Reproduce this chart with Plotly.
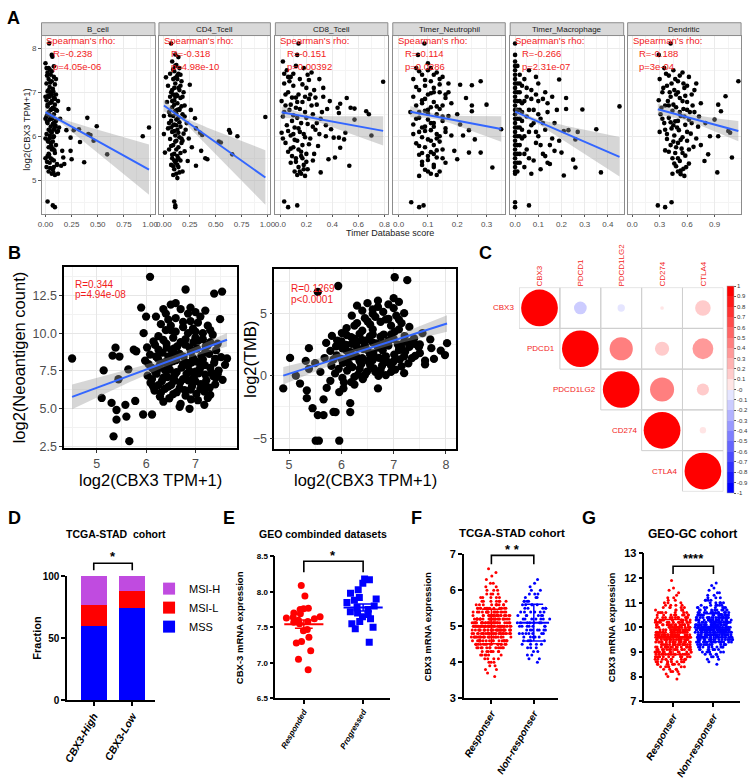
import numpy as np
import plotly.graph_objects as go

W, H = 753, 780
FONT = "Liberation Sans"
RED_TXT = "#F21C1C"


def PX(x):
    return x / W


def PY(y):
    return 1 - y / H


# ===================== DATA =====================
# ---- Panel A (TIMER correlations) ----
a_cells = ["B_cell", "CD4_Tcell", "CD8_Tcell", "Timer_Neutrophil", "Timer_Macrophage", "Dendritic"]
a_rho = ["-0.238", "-0.318", "-0.151", "-0.114", "-0.266", "-0.188"]
a_p = ["4.05e-06", "4.98e-10", "0.00392", "0.0286", "2.31e-07", "3e-04"]
a_fit_intercept = [6.55, 6.70, 6.55, 6.61, 6.56, 6.77]
a_fit_slope = [-1.32, -1.67, -0.54, -1.27, -2.28, -0.56]
a_band_min = [0.05, 0.05, 0.06, 0.06, 0.05, 0.08]
a_band_far = [0.57, 0.62, 0.33, 0.29, 0.45, 0.23]

bcell_pts = [(0.02,7.45),(0.05,7.4),(0.08,7.35),(0.03,7.3),(0.06,7.25),(0.01,7.2),(0.09,7.18),(0.04,7.12),(0.07,7.08),(0.02,7.02),
             (0.05,6.98),(0.1,6.95),(0.03,6.9),(0.08,6.88),(0.01,6.82),(0.06,6.8),(0.04,6.75),(0.09,6.72),(0.02,6.68),(0.07,6.65),
             (0.05,6.6),(0.11,6.58),(0.03,6.55),(0.08,6.5),(0.01,6.45),(0.06,6.42),(0.04,6.38),(0.1,6.35),(0.02,6.3),(0.07,6.28),
             (0.05,6.22),(0.09,6.2),(0.03,6.15),(0.12,6.12),(0.06,6.08),(0.01,6.05),(0.08,6.0),(0.04,5.95),(0.02,5.92),(0.07,5.88),
             (0.05,5.85),(0.1,5.8),(0.03,5.75),(0.06,5.7),(0.09,5.62),(0.02,5.55),(0.05,5.5),(0.08,5.45),(0.04,5.4),(0.11,5.35),
             (0.01,5.3),(0.07,5.25),(0.03,5.2),(0.06,5.15),(0.09,5.12),(0.04,6.9),(0.06,6.62),(0.02,6.5),(0.08,6.3),(0.05,7.0),
             (0.015,7.38),(0.045,7.22),(0.075,7.02),(0.025,6.92),(0.055,6.77),(0.085,6.62),(0.035,6.52),(0.065,6.4),(0.015,6.33),(0.095,6.25),
             (0.045,6.12),(0.075,5.98),(0.025,5.88),(0.055,5.78),(0.085,5.68),(0.035,5.58),(0.065,5.47),(0.015,5.42),(0.045,5.28),(0.075,5.18),
             (0.03,7.05),(0.06,6.95),(0.09,6.85),(0.02,6.72),(0.05,6.45),(0.08,6.15),(0.04,6.02),(0.07,5.72),(0.03,5.6),(0.1,6.6),
             (0.0,6.9),(0.0,6.4),(0.0,5.95),(0.0,5.5),(0.11,6.1),(0.12,6.8),(0.1,7.3),(0.06,7.48),(0.03,7.55),(0.08,5.3),
             (0.035,8.11),(0.06,7.85),(0.066,7.81),(0.08,7.59),(0.0,7.66),(0.01,7.55),(0.04,7.52),
             (0.02,4.52),(0.07,4.43),(0.09,4.39),
             (0.22,6.62),(0.2,6.14),(0.24,5.97),(0.27,6.14),(0.32,6.16),(0.33,5.87),(0.4,6.42),(0.41,6.05),(0.43,6.03),(0.46,5.9),
             (0.49,6.23),(0.59,5.59),(0.93,6.0),(0.99,6.2),(0.24,5.67),(0.25,5.48),(0.37,5.41),(0.16,5.67),(0.17,5.52),(0.18,5.37),
             (0.11,5.37),(0.15,5.33),(0.13,6.2),(0.14,6.4),(0.12,5.15)]

cd4_pts = [(0.08,7.7),(0.12,7.62),(0.15,7.55),(0.1,7.48),(0.06,7.42),(0.13,7.38),(0.09,7.3),(0.17,7.25),(0.11,7.2),(0.04,7.15),
           (0.14,7.1),(0.08,7.05),(0.19,7.0),(0.12,6.95),(0.06,6.9),(0.16,6.87),(0.1,6.82),(0.03,6.78),(0.13,6.75),(0.2,6.7),
           (0.08,6.66),(0.15,6.62),(0.11,6.58),(0.05,6.55),(0.18,6.5),(0.09,6.46),(0.14,6.42),(0.12,6.38),(0.07,6.35),(0.22,6.3),
           (0.1,6.27),(0.16,6.22),(0.04,6.18),(0.13,6.15),(0.08,6.1),(0.19,6.06),(0.11,6.02),(0.15,5.98),(0.06,5.94),(0.12,5.9),
           (0.17,5.85),(0.09,5.8),(0.14,5.75),(0.05,5.7),(0.2,5.66),(0.1,5.6),(0.13,5.55),(0.08,5.5),(0.16,5.45),(0.11,5.4),
           (0.07,5.35),(0.14,5.3),(0.1,5.25),(0.18,5.2),(0.12,5.15),(0.09,5.12),(0.15,6.6),(0.11,6.9),(0.13,7.3),(0.07,6.2),
           (0.09,7.52),(0.14,7.42),(0.11,7.33),(0.16,7.15),(0.07,7.0),(0.13,6.92),(0.1,6.72),(0.17,6.68),(0.12,6.52),(0.06,6.48),
           (0.15,6.32),(0.09,6.25),(0.14,6.08),(0.11,5.88),(0.07,5.78),(0.16,5.62),(0.12,5.45),(0.09,5.32),(0.15,5.18),(0.13,5.05),
           (0.1,7.1),(0.18,6.9),(0.08,6.8),(0.13,6.6),(0.2,6.45),(0.1,6.12),(0.17,5.95),(0.12,5.7),(0.08,5.58),(0.14,5.5),
           (0.11,7.6),(0.16,7.4),(0.05,6.3),(0.18,5.9),(0.21,6.15),(0.12,6.25),(0.09,6.95),(0.15,7.05),(0.13,5.35),(0.1,5.45),
           (0.07,8.11),(0.11,7.86),(0.14,7.8),(0.02,7.34),(0.0,6.46),(0.0,6.05),(0.01,5.63),(0.25,7.17),(0.3,6.41),(0.31,6.18),
           (0.35,6.08),(0.37,6.03),(0.36,5.67),(0.4,5.5),(0.42,5.48),(0.31,5.33),(0.23,5.44),(0.63,6.14),(0.64,6.08),(0.53,5.88),
           (0.55,5.86),(0.66,5.59),(0.71,6.0),(0.98,6.44),(0.1,4.52),(0.11,4.43),(0.11,4.39),(0.24,5.95),(0.27,5.75),(0.26,6.6)]

cd8_pts = [(0.02,7.7),(0.05,7.5),(0.12,7.6),(0.18,7.55),(0.24,7.45),(0.08,7.35),(0.15,7.3),(0.3,7.3),(0.03,7.2),(0.1,7.15),
           (0.2,7.1),(0.26,7.05),(0.06,7.0),(0.14,6.95),(0.33,6.9),(0.09,6.88),(0.22,6.85),(0.01,6.8),(0.17,6.78),(0.28,6.72),
           (0.04,6.7),(0.12,6.65),(0.36,6.62),(0.07,6.6),(0.19,6.55),(0.25,6.5),(0.02,6.45),(0.13,6.42),(0.31,6.4),(0.09,6.35),
           (0.16,6.3),(0.21,6.28),(0.05,6.25),(0.11,6.2),(0.27,6.15),(0.15,6.1),(0.01,6.08),(0.08,6.02),(0.19,5.98),(0.23,5.95),
           (0.13,5.9),(0.04,5.85),(0.17,5.8),(0.29,5.78),(0.1,5.75),(0.14,5.7),(0.06,5.65),(0.2,5.6),(0.16,5.55),(0.12,5.5),
           (0.25,5.45),(0.08,5.4),(0.18,5.35),(0.14,5.3),(0.21,5.25),(0.11,5.2),(0.16,5.15),(0.19,5.1),(0.23,6.95),(0.07,7.25),
           (0.03,7.42),(0.1,7.42),(0.17,7.18),(0.22,7.28),(0.04,6.95),(0.12,6.88),(0.27,6.88),(0.08,6.72),(0.15,6.62),(0.32,6.55),
           (0.03,6.55),(0.2,6.42),(0.1,6.48),(0.25,6.22),(0.06,6.12),(0.14,6.18),(0.18,6.05),(0.3,6.05),(0.11,5.92),(0.02,5.95),
           (0.22,5.82),(0.08,5.72),(0.16,5.65),(0.26,5.6),(0.12,5.42),(0.2,5.42),(0.15,5.2),(0.18,5.25),(0.13,5.12),(0.09,5.55),
           (0.24,6.7),(0.19,6.9),(0.06,7.35),(0.28,6.3),(0.35,6.25),(0.33,7.1),(0.21,7.4),(0.1,6.05),(0.17,5.5),(0.13,6.78),
           (0.14,8.11),(0.13,7.85),(0.51,6.87),(0.54,6.65),(0.57,6.63),(0.44,6.65),(0.46,6.74),(0.45,6.53),(0.57,6.38),(0.66,6.57),
           (0.68,6.5),(0.7,6.02),(0.39,6.16),(0.41,5.97),(0.45,5.97),(0.49,5.93),(0.5,6.08),(0.53,5.33),(0.31,5.18),(0.37,5.48),
           (0.42,5.52),(0.46,5.74),(0.79,7.24),(0.03,4.52),(0.06,4.39),(0.13,4.43),(0.35,6.0),(0.38,6.8)]

neut_pts = [(0.06,7.55),(0.1,7.5),(0.13,7.45),(0.08,7.4),(0.15,7.35),(0.05,7.3),(0.11,7.25),(0.17,7.2),(0.09,7.15),(0.12,7.1),
            (0.07,7.05),(0.14,7.0),(0.1,6.95),(0.05,6.9),(0.16,6.87),(0.08,6.82),(0.12,6.78),(0.18,6.75),(0.06,6.7),(0.11,6.66),
            (0.14,6.62),(0.09,6.58),(0.04,6.55),(0.13,6.5),(0.17,6.46),(0.07,6.42),(0.1,6.38),(0.15,6.35),(0.12,6.3),(0.05,6.27),
            (0.09,6.22),(0.16,6.18),(0.11,6.14),(0.07,6.1),(0.13,6.05),(0.18,6.02),(0.08,5.98),(0.1,5.93),(0.14,5.88),(0.06,5.84),
            (0.12,5.8),(0.09,5.75),(0.15,5.7),(0.11,5.64),(0.07,5.58),(0.13,5.52),(0.1,5.46),(0.16,5.4),(0.08,5.35),(0.12,5.3),
            (0.09,5.24),(0.14,5.2),(0.11,5.15),(0.07,5.1),(0.1,6.6),(0.12,7.0),(0.08,6.2),(0.13,5.95),
            (0.07,7.48),(0.12,7.4),(0.09,7.28),(0.14,7.18),(0.06,7.12),(0.11,6.98),(0.16,6.95),(0.08,6.75),(0.13,6.68),(0.1,6.52),
            (0.15,6.45),(0.06,6.4),(0.12,6.22),(0.09,6.12),(0.14,6.0),(0.11,5.9),(0.07,5.78),(0.13,5.68),(0.1,5.55),(0.15,5.5),
            (0.08,5.42),(0.12,5.35),(0.1,5.2),(0.13,5.12),(0.09,6.85),(0.15,6.7),(0.11,6.3),(0.16,6.1),(0.07,6.55),(0.12,5.6),
            (0.17,7.0),(0.05,6.05),(0.14,7.3),(0.08,5.62),(0.11,7.55),
            (0.088,8.11),(0.066,7.85),(0.1,7.66),(0.043,4.5),(0.07,4.39),(0.085,4.43),(0.21,7.17),(0.25,7.16),(0.28,7.25),(0.23,6.87),
            (0.25,6.7),(0.3,6.72),(0.25,6.57),(0.24,6.14),(0.22,6.02),(0.26,5.93),(0.35,6.16),(0.24,5.63),(0.28,5.63),(0.32,5.29),
            (0.2,5.48),(0.19,5.67),(0.21,6.27),(0.2,6.5)]

macro_pts = [(0.0,7.7),(0.0,7.5),(0.0,7.3),(0.0,7.1),(0.0,6.9),(0.0,6.7),(0.0,6.5),(0.0,6.3),(0.0,6.1),(0.0,5.9),
             (0.0,5.7),(0.0,5.5),(0.0,5.3),(0.0,5.15),(0.01,7.6),(0.01,7.2),(0.01,6.8),(0.01,6.4),(0.01,6.0),(0.01,5.6),
             (0.01,5.2),(0.02,7.4),(0.02,7.0),(0.02,6.6),(0.02,6.2),(0.02,5.8),(0.02,5.4),(0.03,7.15),(0.03,6.75),(0.03,6.35),
             (0.03,5.95),(0.04,7.3),(0.05,6.9),(0.05,6.45),(0.06,6.1),(0.05,5.7),(0.07,7.05),(0.08,6.6),(0.07,6.25),(0.09,5.85),
             (0.08,5.45),(0.1,7.2),(0.1,6.8),(0.11,6.4),(0.1,6.0),(0.12,5.6),(0.11,5.25),(0.13,7.0),(0.14,6.55),(0.13,6.15),
             (0.15,5.8),(0.14,5.4),(0.16,6.9),(0.17,6.3),(0.16,5.95),(0.04,5.3),(0.06,7.5),(0.09,7.35),(0.12,6.85),(0.07,5.15),
             (0.0,7.6),(0.0,7.4),(0.0,7.2),(0.0,7.0),(0.0,6.8),(0.0,6.6),(0.0,6.4),(0.0,6.2),(0.0,6.0),(0.0,5.8),
             (0.0,5.6),(0.0,5.4),(0.0,5.2),(0.01,7.0),(0.01,6.6),(0.01,6.2),(0.01,5.8),(0.01,5.4),(0.02,7.2),(0.02,6.8),
             (0.02,6.4),(0.02,6.0),(0.02,5.6),(0.03,6.55),(0.03,6.15),(0.04,6.8),(0.04,6.0),(0.05,7.1),(0.06,6.6),(0.06,5.5),
             (0.07,6.85),(0.08,6.3),(0.09,6.95),(0.09,6.1),(0.1,6.5),(0.11,5.8),(0.12,6.3),(0.13,5.55),(0.14,6.75),(0.04,5.6),
             (0.0,8.11),(0.0,7.85),(0.0,4.5),(0.0,4.39),(0.06,4.43),(0.19,7.29),(0.22,6.87),(0.22,6.62),(0.29,6.61),(0.45,6.68),
             (0.35,6.16),(0.23,6.14),(0.21,6.12),(0.27,6.1),(0.26,5.93),(0.2,5.63),(0.25,5.47),(0.26,5.29),(0.21,5.11),(0.37,5.18),
             (0.17,5.67),(0.15,5.37),(0.18,6.6),(0.19,5.9)]

dend_pts = [(0.35,7.55),(0.45,7.5),(0.55,7.45),(0.4,7.38),(0.62,7.35),(0.3,7.3),(0.5,7.25),(0.7,7.2),(0.38,7.15),(0.57,7.1),
            (0.46,7.05),(0.33,7.0),(0.65,6.95),(0.42,6.9),(0.52,6.87),(0.29,6.82),(0.6,6.78),(0.75,6.75),(0.36,6.7),(0.48,6.66),
            (0.56,6.62),(0.44,6.58),(0.68,6.55),(0.31,6.5),(0.53,6.46),(0.4,6.42),(0.62,6.38),(0.47,6.34),(0.35,6.3),(0.58,6.26),
            (0.72,6.22),(0.43,6.18),(0.51,6.14),(0.3,6.1),(0.64,6.06),(0.46,6.02),(0.55,5.98),(0.38,5.94),(0.6,5.9),(0.5,5.85),
            (0.42,5.8),(0.67,5.76),(0.54,5.72),(0.36,5.68),(0.47,5.62),(0.58,5.56),(0.44,5.5),(0.52,5.44),(0.62,5.38),(0.48,5.32),
            (0.56,5.26),(0.5,5.2),(0.53,5.14),(0.57,5.1),(0.4,6.7),(0.5,7.0),(0.45,6.25),(0.6,6.6),
            (0.37,7.42),(0.52,7.38),(0.43,7.2),(0.6,7.15),(0.34,7.1),(0.48,6.95),(0.58,6.92),(0.39,6.8),(0.66,6.7),(0.45,6.72),
            (0.52,6.55),(0.33,6.4),(0.57,6.45),(0.42,6.32),(0.65,6.3),(0.49,6.2),(0.38,6.05),(0.6,6.1),(0.53,5.92),(0.45,5.88),
            (0.7,5.95),(0.4,5.65),(0.55,5.62),(0.5,5.5),(0.46,5.38),(0.59,5.3),(0.53,5.22),(0.44,5.15),(0.63,6.55),(0.36,6.15),
            (0.47,7.3),(0.68,7.05),(0.32,6.65),(0.55,6.8),(0.73,6.45),(0.5,6.35),(0.41,7.0),(0.62,5.7),(0.48,5.75),(0.56,7.2),
            (0.42,8.11),(0.29,7.85),(1.16,7.25),(1.02,6.91),(0.94,6.72),(0.97,6.57),(0.9,6.38),(1.05,6.12),(1.07,6.08),(0.94,6.0),
            (1.09,5.52),(0.93,5.18),(0.83,5.59),(0.79,5.44),(0.28,4.43),(0.36,4.39),(0.43,4.5),(0.8,6.3),(0.85,6.0),(0.75,5.8)]

a_points = [bcell_pts, cd4_pts, cd8_pts, neut_pts, macro_pts, dend_pts]

# ---- Panel B ----
b_stats = [("R=0.344", "p=4.94e-08"), ("R=0.1269", "p<0.0001")]
b_fit_intercept = [0.34, -6.51]
b_fit_slope = [1.207, 1.332]
b_band_min = [0.25, 0.25]
b_band_far = [0.82, 0.70]

neo_pts = [(4.5,8.32),(5.14,7.53),(5.1,5.7),(5.38,9.04),(5.32,8.51),(5.46,8.45),(5.64,7.6),(5.44,6.94),(5.3,5.37),(5.4,4.9),
           (5.58,5.24),(5.4,4.26),(5.6,4.46),(5.34,3.15),(5.66,2.83),(5.94,4.6),(6.12,4.6),(7.18,5.24),(6.88,4.98),(6.68,5.11),
           (5.78,5.5),(7.64,8.32),(7.5,10.93),(6.08,13.74),(6.8,12.9),(7.38,12.63),(7.54,12.76),(5.9,11.7),(6.0,11.1),(5.8,8.8),
           (5.75,8.9),(5.95,10.0),
           (6.2,11.1),(6.35,11.6),(6.5,11.9),(6.6,12.0),(6.7,11.6),(6.85,11.3),(7.0,11.4),(7.1,11.1),(7.2,11.5),(6.45,10.9),
           (6.6,11.0),(6.9,10.8),(7.05,10.7),(6.3,10.6),(6.5,10.5),(6.75,10.4),(6.95,10.3),(7.25,10.5),(6.4,10.2),(6.6,10.1),
           (6.85,10.0),(7.15,10.0),(7.35,9.9),(6.25,9.8),(6.55,9.7),(6.8,9.6),(7.05,9.5),(7.3,9.4),(7.45,9.3),
           (6.02,9.05),(6.18,9.22),(6.41,9.31),(6.63,9.12),(6.79,9.24),(7.03,8.98),(7.21,9.13),(7.42,8.87),(6.08,8.58),(6.33,8.71),
           (6.52,8.83),(6.68,8.62),(6.91,8.74),(7.12,8.49),(7.28,8.63),(7.52,8.41),(5.98,8.18),(6.24,8.32),(6.39,8.07),(6.61,8.21),
           (6.83,8.02),(7.01,8.13),(7.19,7.88),(7.38,8.04),(6.12,7.69),(6.27,7.83),(6.48,7.58),(6.72,7.71),(6.88,7.49),(7.09,7.62),
           (7.33,7.38),(7.47,7.52),(6.03,7.18),(6.21,7.31),(6.43,7.09),(6.58,7.24),(6.81,6.98),(6.97,7.12),(7.22,6.87),(7.41,7.03),
           (6.09,6.71),(6.32,6.82),(6.51,6.57),(6.69,6.73),(6.93,6.48),(7.11,6.62),(7.29,6.39),(6.17,6.19),(6.38,6.31),(6.62,6.08),
           (6.78,6.22),(7.02,5.97),(7.18,6.12),(6.28,5.79),(6.47,5.68),(6.91,5.61),(6.22,7.52),(6.46,7.94),(6.76,8.44),(7.06,7.33),
           (6.56,8.97),(6.86,6.86),(6.14,6.48),(7.36,7.16),(6.96,9.41),(6.7,5.3),(7.05,5.55),(6.35,5.45),(7.3,5.9),(7.55,6.9),
           (7.6,7.9),(6.55,6.95),(6.85,7.85),(6.25,8.9),(7.15,9.6),
           (6.15,9.45),(6.35,9.55),(6.7,9.4),(7.0,9.7),(7.25,9.2),(6.45,8.45),(6.6,8.55),(6.95,8.35),(7.15,8.25),(7.4,8.3),
           (6.05,7.95),(6.3,8.05),(6.55,8.15),(6.75,7.95),(6.92,8.05),(7.1,7.85),(7.3,7.7),(6.18,7.45),(6.38,7.55),(6.62,7.42),
           (6.82,7.3),(7.0,7.45),(7.2,7.25),(7.45,7.25),(6.12,6.95),(6.35,7.05),(6.58,6.85),(6.75,6.95),(7.0,6.8),(7.2,6.55),
           (7.4,6.6),(6.25,6.55),(6.45,6.45),(6.68,6.35),(6.9,6.25),(7.1,6.3),(6.3,6.05),(6.55,5.95),(6.8,5.85),(7.25,5.7),
           (6.42,9.05),(6.88,9.05),(7.2,8.75),(6.2,8.45),(6.5,10.2),(6.75,10.75),(7.0,10.1),(7.3,10.2),(6.4,11.3),(6.9,11.7)]

tmb_pts = [(4.89,-1.02),(5.02,1.42),(7.02,7.87),(7.26,7.64),(5.94,7.17),(5.55,6.7),(8.02,2.6),(7.98,1.65),(7.77,1.34),(7.72,2.2),
           (5.55,-3.15),(5.66,-3.15),(5.89,-2.91),(6.17,-2.2),(6.17,-2.91),(5.45,-2.6),(5.34,-1.8),(5.34,-1.18),(5.21,-0.63),(5.66,-1.89),
           (6.04,-1.02),(6.25,-0.71),(6.7,-1.02),(5.13,0.0),(5.38,0.55),(5.32,1.18),(5.38,2.2),(5.51,-5.2),(5.57,-5.2),(5.96,-5.2),
           (5.85,-2.9),(7.9,2.0),(7.6,1.2),(7.5,2.5),(7.7,2.9),
           (6.3,5.6),(6.5,5.8),(6.7,6.0),(6.9,5.7),(7.1,5.9),(6.4,5.2),(6.6,5.3),(6.8,5.1),(7.0,5.4),(7.2,5.0),
           (6.2,4.8),(6.45,4.6),(6.65,4.7),(6.85,4.5),(7.05,4.8),(6.3,4.2),(6.55,4.1),(6.75,4.3),(6.95,4.0),(7.15,4.2),
           (7.3,3.9),(6.1,3.8),(6.4,3.6),(6.6,3.7),
           (5.82,3.18),(6.01,3.41),(6.19,3.08),(6.81,3.29),(7.02,3.52),(7.21,3.17),(7.39,2.98),(5.71,2.62),(5.92,2.81),(6.09,2.47),
           (6.31,2.72),(6.52,2.91),(6.68,2.58),(6.91,2.83),(7.08,2.49),(7.32,2.71),(7.48,2.28),(5.79,1.98),(6.02,2.19),(6.18,1.88),
           (6.42,2.12),(6.61,1.79),(6.79,2.03),(7.01,1.68),(7.22,1.92),(7.41,1.58),(5.68,1.41),(5.91,1.62),(6.12,1.28),(6.29,1.52),
           (6.51,1.19),(6.72,1.43),(6.89,1.08),(7.12,1.31),(7.28,0.98),(5.81,0.79),(6.03,1.02),(6.21,0.68),(6.38,0.92),(6.62,0.58),
           (6.78,0.81),(7.03,0.49),(5.88,0.18),(6.11,0.41),(6.32,0.08),(6.49,0.32),(6.71,-0.02),(5.79,-0.41),(6.02,-0.18),(6.19,-0.52),
           (6.41,-0.28),(5.72,-0.98),(5.96,-1.31),(6.45,2.42),(6.55,1.65),(6.25,2.95),(6.75,3.12),(6.15,1.75),(6.85,1.55),(6.35,0.55),
           (7.15,2.2),(6.95,0.3),(7.35,1.4),(6.6,3.3),(5.6,0.3),(5.5,1.0),(7.55,3.4),(7.2,0.2),
           (5.9,2.35),(6.1,2.0),(6.3,2.25),(6.5,2.05),(6.7,2.25),(6.9,2.4),(7.1,2.05),(7.3,2.3),(6.0,1.35),(6.2,1.55),
           (6.4,1.4),(6.6,1.25),(6.8,1.3),(7.0,1.15),(7.2,1.55),(5.95,0.55),(6.15,0.9),(6.35,1.15),(6.55,0.85),(6.75,0.45),
           (6.95,0.8),(7.15,0.75),(6.05,-0.55),(6.25,-0.1),(6.45,0.05),(6.65,0.3),(6.85,0.05),(6.0,2.75),(6.2,2.55),(6.4,2.85),
           (6.6,2.65),(6.8,2.6),(7.0,2.95),(7.2,2.7),(7.4,2.55),(6.1,3.25),(6.35,3.35),(6.55,3.15),(6.95,3.3),(7.1,3.7),
           (6.25,4.0),(6.5,4.35),(6.9,4.55),(7.1,4.5),(6.7,5.5),(6.6,4.95),(7.0,6.2),(5.85,1.3),(7.5,1.8),(7.6,0.9)]

b_points = [neo_pts, tmb_pts]

# ---- Panel C (correlation matrix, upper triangle) ----
c_genes = ["CBX3", "PDCD1", "PDCD1LG2", "CD274", "CTLA4"]
c_corr = [[1.00, -0.12, -0.04, 0.01, 0.18],
          [None, 1.00, 0.40, 0.15, 0.32],
          [None, None, 1.00, 0.43, 0.11],
          [None, None, None, 1.00, 0.03],
          [None, None, None, None, 1.00]]

# ---- Panel D (MSI fraction) ----
d_groups = ["CBX3-High", "CBX3-Low"]
d_mss = [60, 74]
d_msil = [17, 14]
d_msih = [23, 12]

# ---- Panel E (GEO combined datasets) ----
e_groups = ["Responded", "Progressed"]
e_responded = [8.09, 7.94, 7.77, 7.76, 7.75, 7.70, 7.69, 7.65, 7.64, 7.63, 7.62, 7.60, 7.58, 7.57, 7.55,
               7.47, 7.45, 7.36, 7.30, 7.28, 7.17, 7.05, 6.90]
e_progressed = [8.18, 8.17, 8.12, 8.03, 7.98, 7.92, 7.90, 7.88, 7.85, 7.80, 7.78, 7.75, 7.72, 7.70, 7.68,
                7.65, 7.62, 7.58, 7.55, 7.50, 7.48, 7.29]

fg_groups = ["Responser", "Non-responser"]
f_resp_vals = [3.6, 3.7, 3.8, 3.9, 4.0, 4.1, 4.2, 4.3, 4.4, 4.5, 4.6, 4.7, 4.8, 4.9, 5.0, 5.1, 5.2, 5.3, 5.4, 5.5,
               5.6, 5.7, 5.8, 5.9, 6.0, 6.1, 6.2, 6.3, 6.4, 6.5, 6.6]
f_resp_counts = [1, 1, 2, 2, 3, 4, 6, 8, 12, 16, 20, 24, 28, 32, 33, 30, 26, 22, 18, 14,
                 10, 7, 5, 4, 3, 2, 2, 1, 1, 1, 1]
f_non_vals = [4.0, 4.1, 4.2, 4.3, 4.4, 4.5, 4.6, 4.7, 4.8, 4.9, 5.0, 5.1, 5.2, 5.3, 5.4, 5.5, 5.6, 5.7, 5.8, 5.9,
              6.0, 6.1, 6.2, 6.3]
f_non_counts = [1, 2, 2, 2, 3, 4, 5, 6, 7, 7, 7, 7, 7, 6, 6, 5, 5, 4, 3, 3, 2, 1, 1, 1]

# ---- Panel G (GEO-GC cohort) ----
g_resp_vals = [7.9, 8.0, 8.1, 8.2, 8.3, 8.4, 8.5, 8.6, 8.7, 8.8, 8.9, 9.0, 9.1, 9.2, 9.3, 9.4, 9.5, 9.6, 9.7, 9.8,
               9.9, 10.0, 10.1, 10.2, 10.3, 10.4, 10.5, 10.6, 10.7, 10.8, 10.9, 11.0, 11.1, 11.2, 11.3, 11.4, 11.5, 11.6, 11.9]
g_resp_counts = [1, 1, 2, 3, 4, 6, 8, 10, 11, 12, 14, 15, 16, 17, 18, 19, 20, 21, 21, 21,
                 20, 19, 17, 15, 13, 11, 9, 7, 6, 5, 4, 3, 2, 2, 1, 1, 1, 1, 1]
g_non_vals = [8.5, 8.6, 8.7, 8.8, 8.9, 9.0, 9.1, 9.2, 9.3, 9.4, 9.5, 9.6, 9.7, 9.8, 9.9, 10.0, 10.1, 10.2, 10.3, 10.4,
              10.5, 10.6, 10.7, 10.8, 10.9, 11.0, 11.1, 11.2, 11.3, 11.4, 11.5, 11.6, 11.7, 11.8]
g_non_counts = [1, 1, 2, 3, 4, 6, 8, 10, 13, 16, 19, 22, 25, 27, 28, 28, 27, 25, 22, 19,
                16, 13, 10, 8, 6, 5, 4, 3, 2, 2, 1, 1, 1, 1]

# ===================== FIGURE =====================
fig = go.Figure()
layout = dict(width=W, height=H, margin=dict(l=0, r=0, t=0, b=0),
              paper_bgcolor="white", plot_bgcolor="white",
              font=dict(family=FONT, color="black"), showlegend=True,
              barmode="stack", boxmode="overlay")
shapes, annos = [], []


def ax_names(k):
    return ("x" if k == 1 else f"x{k}"), ("y" if k == 1 else f"y{k}")


def lay_names(k):
    return ("xaxis" if k == 1 else f"xaxis{k}"), ("yaxis" if k == 1 else f"yaxis{k}")


def add_fit(xs, xname, yname, b0, b1, h0, hf):
    xl = np.linspace(xs.min(), xs.max(), 80)
    yl = b0 + b1 * xl
    xm = xs.mean()
    dfar = max(abs(xs.min() - xm), abs(xs.max() - xm))
    c = (hf ** 2 - h0 ** 2) / dfar ** 2
    hw = np.sqrt(h0 ** 2 + c * (xl - xm) ** 2)
    fig.add_trace(go.Scatter(x=np.concatenate([xl, xl[::-1]]), y=np.concatenate([yl + hw, (yl - hw)[::-1]]),
                             fill="toself", fillcolor="rgba(153,153,153,0.4)", line=dict(width=0),
                             mode="lines", xaxis=xname, yaxis=yname, showlegend=False, hoverinfo="skip"))
    fig.add_trace(go.Scatter(x=xl, y=yl, mode="lines", line=dict(color="#3366FF", width=2),
                             xaxis=xname, yaxis=yname, showlegend=False, hoverinfo="skip"))


# ---------- Panel A ----------
a_px = [(37, 152), (156, 269), (274, 388), (393, 507), (512, 627), (631, 746)]
a_xrange = [[-0.038, 1.047], [-0.048, 1.029], [-0.038, 0.826], [-0.02, 0.364], [-0.021, 0.468], [-0.05, 1.19]]
a_dtick = [0.25, 0.25, 0.2, 0.1, 0.1, 0.3]
a_fmt = [".2f", ".2f", ".1f", ".1f", ".1f", ".1f"]
for i in range(6):
    k = i + 1
    xn, yn = ax_names(k)
    xl_, yl_ = lay_names(k)
    xs = np.array([p[0] for p in a_points[i]])
    ys = np.array([p[1] for p in a_points[i]])
    fig.add_trace(go.Scatter(x=xs, y=ys, mode="markers", marker=dict(color="black", size=4.6),
                             xaxis=xn, yaxis=yn, showlegend=False, hoverinfo="skip"))
    add_fit(xs, xn, yn, a_fit_intercept[i], a_fit_slope[i], a_band_min[i], a_band_far[i])
    l, r = a_px[i]
    layout[xl_] = dict(domain=[PX(l), PX(r)], range=a_xrange[i], anchor=yn, tickmode="linear", tick0=0,
                       dtick=a_dtick[i], tickformat=a_fmt[i], showline=True, mirror=True, linecolor="#8C8C8C",
                       linewidth=1, ticks="outside", ticklen=2.5, tickcolor="#555", tickfont=dict(size=8, color="#4D4D4D"),
                       showgrid=True, gridcolor="#EBEBEB", gridwidth=0.8, zeroline=False,
                       minor=dict(dtick=a_dtick[i] / 2, showgrid=True, gridcolor="#F4F4F4", gridwidth=0.5))
    layout[yl_] = dict(domain=[PY(211), PY(30)], range=[4.24, 8.29], anchor=xn, tickmode="linear", tick0=0, dtick=1,
                       showline=True, mirror=True, linecolor="#8C8C8C", linewidth=1,
                       ticks="outside" if i == 0 else "", ticklen=2.5, tickcolor="#555",
                       showticklabels=(i == 0), tickfont=dict(size=8, color="#4D4D4D"),
                       showgrid=True, gridcolor="#EBEBEB", gridwidth=0.8, zeroline=False,
                       minor=dict(dtick=0.5, showgrid=True, gridcolor="#F4F4F4", gridwidth=0.5))
    shapes.append(dict(type="rect", xref="paper", yref="paper", x0=PX(l), x1=PX(r), y0=PY(30), y1=PY(17),
                       fillcolor="#D9D9D9", line=dict(color="#8C8C8C", width=1)))
    annos.append(dict(x=PX((l + r) / 2), y=PY(23.5), xref="paper", yref="paper", text=a_cells[i], showarrow=False,
                      font=dict(size=8, color="#1A1A1A"), xanchor="center", yanchor="middle"))
    annos.append(dict(x=PX(l + 3), y=PY(35.5), xref="paper", yref="paper", text="Spearman's rho:", showarrow=False,
                      font=dict(size=9.5, color=RED_TXT), xanchor="left", yanchor="middle"))
    annos.append(dict(x=PX(l + 10), y=PY(48), xref="paper", yref="paper", text="R=" + a_rho[i], showarrow=False,
                      font=dict(size=9.5, color=RED_TXT), xanchor="left", yanchor="middle"))
    annos.append(dict(x=PX(l + 10), y=PY(61), xref="paper", yref="paper", text="p=" + a_p[i], showarrow=False,
                      font=dict(size=9.5, color=RED_TXT), xanchor="left", yanchor="middle"))

annos.append(dict(x=PX(21), y=PY(126), xref="paper", yref="paper", text="log2(CBX3 TPM+1)", showarrow=False,
                  textangle=-90, font=dict(size=9.5, color="#1A1A1A"), xanchor="center", yanchor="middle"))
annos.append(dict(x=PX(390), y=PY(231), xref="paper", yref="paper", text="Timer Database score", showarrow=False,
                  font=dict(size=9, color="#1A1A1A"), xanchor="center", yanchor="middle"))

# ---------- Panel B ----------
b_dom = [((60, 235), (265, 449)), ((273, 457), (267, 450))]
b_xr = [[4.34, 7.84], [4.72, 8.19]]
b_yr = [[2.37, 14.4], [-5.87, 8.54]]
b_ydt = [2.5, 5]
b_yfmt = [".1f", "d"]
b_ytitle = ["log2(Neoantigen count)", "log2(TMB)"]
b_ytitle_x = [14, 248]
b_txt_pos = [(69, 282.5, 293.5), (288, 286.5, 298.5)]
for i in range(2):
    k = 7 + i
    xn, yn = ax_names(k)
    xl_, yl_ = lay_names(k)
    xs = np.array([p[0] for p in b_points[i]])
    ys = np.array([p[1] for p in b_points[i]])
    fig.add_trace(go.Scatter(x=xs, y=ys, mode="markers", marker=dict(color="black", size=8.3),
                             xaxis=xn, yaxis=yn, showlegend=False, hoverinfo="skip"))
    add_fit(xs, xn, yn, b_fit_intercept[i], b_fit_slope[i], b_band_min[i], b_band_far[i])
    (l, r), (t, b) = b_dom[i]
    layout[xl_] = dict(domain=[PX(l), PX(r)], range=b_xr[i], anchor=yn, tickmode="linear", tick0=0, dtick=1,
                       showline=True, mirror=True, linecolor="black", linewidth=1.6, ticks="outside", ticklen=3,
                       tickcolor="#333", tickfont=dict(size=12.5, color="#4D4D4D"), showgrid=True, gridcolor="#E6E6E6",
                       gridwidth=0.9, zeroline=False,
                       minor=dict(dtick=0.5, showgrid=True, gridcolor="#F2F2F2", gridwidth=0.6))
    layout[yl_] = dict(domain=[PY(b), PY(t)], range=b_yr[i], anchor=xn, tickmode="linear", tick0=0, dtick=b_ydt[i],
                       tickformat=b_yfmt[i], showline=True, mirror=True, linecolor="black", linewidth=1.6,
                       ticks="outside", ticklen=3, tickcolor="#333", tickfont=dict(size=12.5, color="#4D4D4D"),
                       showgrid=True, gridcolor="#E6E6E6", gridwidth=0.9, zeroline=False,
                       minor=dict(dtick=b_ydt[i] / 2, showgrid=True, gridcolor="#F2F2F2", gridwidth=0.6))
    annos.append(dict(x=PX(b_ytitle_x[i]), y=PY((t + b) / 2), xref="paper", yref="paper", text=b_ytitle[i],
                      showarrow=False, textangle=-90, font=dict(size=16.5, color="black"),
                      xanchor="center", yanchor="middle"))
    annos.append(dict(x=PX((l + r) / 2), y=PY(481), xref="paper", yref="paper", text="log2(CBX3 TPM+1)",
                      showarrow=False, font=dict(size=16.5, color="black"), xanchor="center", yanchor="middle"))
    tx, ty1, ty2 = b_txt_pos[i]
    annos.append(dict(x=PX(tx), y=PY(ty1), xref="paper", yref="paper", text=b_stats[i][0], showarrow=False,
                      font=dict(size=10, color=RED_TXT), xanchor="left", yanchor="middle"))
    annos.append(dict(x=PX(tx), y=PY(ty2), xref="paper", yref="paper", text=b_stats[i][1], showarrow=False,
                      font=dict(size=10, color=RED_TXT), xanchor="left", yanchor="middle"))

# ---------- Panel C ----------
cx, cy, cs, cr = [], [], [], []
n = len(c_genes)
c_l, c_r, c_t, c_b = 521, 728, 286, 493
cell_px = (c_r - c_l) / n
for i in range(n):
    for j in range(n):
        v = c_corr[i][j]
        if v is None:
            continue
        cx.append(j)
        cy.append(i)
        cr.append(v)
        cs.append(0.887 * cell_px * np.sqrt(abs(v)))
        shapes.append(dict(type="rect", xref="x9", yref="y9", x0=j - 0.5, x1=j + 0.5, y0=i - 0.5, y1=i + 0.5,
                           line=dict(color="#CFCFCF", width=1), layer="below"))
    annos.append(dict(x=i - 0.5, y=i, xref="x9", yref="y9", text=c_genes[i], showarrow=False, xanchor="right",
                      yanchor="middle", xshift=-3, font=dict(size=8, color=RED_TXT)))

# stepped blue-white-red scale (20 bands); band colour taken at the outer edge of each band
cscale = []
for kb in range(20):
    lo = -1 + 0.1 * kb
    v = lo if lo < 0 else lo + 0.1
    if v < 0:
        t_ = v + 1
        col = f"rgb({int(255 * t_)},{int(255 * t_)},255)"
    else:
        col = f"rgb(255,{int(255 * (1 - v))},{int(255 * (1 - v))})"
    cscale.append([kb / 20, col])
    cscale.append([(kb + 1) / 20, col])
cb_vals = [round(v, 1) for v in np.arange(-1, 1.01, 0.1)]
fig.add_trace(go.Scatter(x=cx, y=cy, mode="markers", xaxis="x9", yaxis="y9", showlegend=False, hoverinfo="skip",
                         marker=dict(size=cs, color=cr, colorscale=cscale, cmin=-1, cmax=1, line=dict(width=0),
                                     opacity=1, showscale=True,
                                     colorbar=dict(x=PX(732), xanchor="left", y=PY((c_t + c_b) / 2), yanchor="middle",
                                                   len=c_b - c_t, lenmode="pixels", thickness=7,
                                                   thicknessmode="pixels", xpad=0, ypad=0, outlinewidth=0.5,
                                                   outlinecolor="#AAAAAA", tickvals=cb_vals,
                                                   ticktext=[f"{v:g}" for v in cb_vals], ticks="outside",
                                                   ticklen=2, tickcolor="#555",
                                                   tickfont=dict(size=6, color="#333")))))
layout["xaxis9"] = dict(domain=[PX(c_l), PX(c_r)], range=[-0.5, n - 0.5], anchor="y9", side="top",
                        tickvals=list(range(n)), ticktext=c_genes, tickangle=-90, ticks="",
                        tickfont=dict(size=8, color=RED_TXT), showgrid=False, zeroline=False, showline=False)
layout["yaxis9"] = dict(domain=[PY(c_b), PY(c_t)], range=[n - 0.5, -0.5], anchor="x9", showticklabels=False,
                        showgrid=False, zeroline=False, showline=False, ticks="")

# ---------- shared helpers for D-G ----------
BOLD = dict(family=FONT, weight="bold", color="black")


def prism_axes(k, dom_x, dom_y, xr, yr, ticktext, ytickvals, ytickfmt, yfont, xfont):
    xl_, yl_ = lay_names(k)
    xn, yn = ax_names(k)
    layout[xl_] = dict(domain=[PX(dom_x[0]), PX(dom_x[1])], range=xr, anchor=yn, tickvals=list(range(len(ticktext))),
                       ticktext=ticktext, tickangle=-60, showline=True, linecolor="black", linewidth=1.6,
                       ticks="outside", ticklen=4, tickwidth=1.5, tickcolor="black",
                       tickfont=dict(BOLD, size=xfont, style="italic"), showgrid=False, zeroline=False)
    layout[yl_] = dict(domain=[PY(dom_y[1]), PY(dom_y[0])], range=yr, anchor=xn, tickvals=ytickvals,
                       ticktext=[format(v, ytickfmt) for v in ytickvals], showline=True, linecolor="black",
                       linewidth=1.6, ticks="outside", ticklen=4, tickwidth=1.5, tickcolor="black",
                       tickfont=dict(BOLD, size=yfont), showgrid=False, zeroline=False)


def bracket(k, y_top, y_leg, star_y, stars):
    xn, _ = ax_names(k)
    shapes.append(dict(type="path", xref=xn, yref="paper",
                       path=f"M 0,{PY(y_leg)} L 0,{PY(y_top)} L 1,{PY(y_top)} L 1,{PY(y_leg)}",
                       line=dict(color="black", width=1.6)))
    annos.append(dict(x=0.5, y=PY(star_y), xref=xn, yref="paper", text=stars, showarrow=False,
                      font=dict(BOLD, size=13), xanchor="center", yanchor="middle"))


def titles(title, tx, ty, ytitle, yx, yy, tsize):
    annos.append(dict(x=PX(tx), y=PY(ty), xref="paper", yref="paper", text=title, showarrow=False,
                      font=dict(BOLD, size=tsize), xanchor="center", yanchor="middle"))
    annos.append(dict(x=PX(yx), y=PY(yy), xref="paper", yref="paper", text=ytitle, showarrow=False, textangle=-90,
                      font=dict(BOLD, size=9.5 if ytitle != "Fraction" else 11), xanchor="center", yanchor="middle"))


# ---------- Panel D ----------
for name, vals, col in [("MSS", d_mss, "#0000FF"), ("MSI-L", d_msil, "#FF0000"), ("MSI-H", d_msih, "#C04BE0")]:
    fig.add_trace(go.Bar(x=[0, 1], y=vals, name=name, width=0.67, marker=dict(color=col, line=dict(width=0)),
                         xaxis="x10", yaxis="y10", hoverinfo="skip"))
prism_axes(10, (63, 152), (579, 705), [-0.69, 1.59], [0, 100], d_groups, [0, 50, 100], "d", 10, 10.5)
bracket(10, 566, 573, 559, "*")
titles("TCGA-STAD  cohort", 113, 536, "Fraction", 33, 642, 10.5)
layout["legend"] = dict(x=PX(146), y=PY(577), xanchor="left", yanchor="top", traceorder="reversed",
                        font=dict(family=FONT, size=11, color="black"), bgcolor="rgba(0,0,0,0)",
                        tracegroupgap=0, itemwidth=30)


# ---------- swarm helper ----------
def swarm(k, pos, vals, color, symbol, size, width, err="sd", half=0.33, cap=0.2):
    xn, yn = ax_names(k)
    vals = np.asarray(vals, dtype=float)
    fig.add_trace(go.Box(y=vals, x0=pos, boxpoints="all", jitter=1, pointpos=0, width=width,
                         fillcolor="rgba(0,0,0,0)", line=dict(color="rgba(0,0,0,0)", width=0), whiskerwidth=0,
                         marker=dict(color=color, size=size, symbol=symbol, line=dict(width=0)),
                         xaxis=xn, yaxis=yn, showlegend=False, hoverinfo="skip"))
    m = vals.mean()
    s = vals.std(ddof=1)
    e = s / np.sqrt(len(vals)) if err == "sem" else s
    fig.add_trace(go.Scatter(x=[pos - half, pos + half], y=[m, m], mode="lines", line=dict(color=color, width=2),
                             xaxis=xn, yaxis=yn, showlegend=False, hoverinfo="skip"))
    fig.add_trace(go.Scatter(x=[pos, pos, None, pos - cap, pos + cap, None, pos - cap, pos + cap],
                             y=[m - e, m + e, None, m + e, m + e, None, m - e, m - e], mode="lines",
                             line=dict(color=color, width=1.5), xaxis=xn, yaxis=yn, showlegend=False,
                             hoverinfo="skip"))


# ---------- Panel E ----------
swarm(11, 0, e_responded, "#FF0000", "circle", 7, 0.62, err="sem", half=0.33, cap=0.15)
swarm(11, 1, e_progressed, "#0000FF", "square", 7, 0.62, err="sem", half=0.33, cap=0.15)
prism_axes(11, (274, 390), (559, 703), [-0.48, 1.45], [6.5, 8.5], e_groups, [6.5, 7.0, 7.5, 8.0, 8.5], ".1f", 8, 8)
bracket(11, 564, 575, 558, "*")
titles("GEO combinded datasets", 322, 536, "CBX-3 mRNA expression", 237, 631, 10.5)

# ---------- Panel F ----------
swarm(12, 0, np.repeat(f_resp_vals, f_resp_counts), "#FF0000", "circle", 3, 0.95, half=0.38, cap=0.22)
swarm(12, 1, np.repeat(f_non_vals, f_non_counts), "#0000FF", "circle", 3, 0.8, half=0.36, cap=0.22)
prism_axes(12, (465, 560), (557, 703), [-0.65, 1.56], [3, 7], fg_groups, [3, 4, 5, 6, 7], "d", 11, 10)
bracket(12, 558, 567, 552, "* *")
titles("TCGA-STAD cohort", 514, 535, "CBX3 mRNA expression", 428, 630, 11.5)

# ---------- Panel G ----------
swarm(13, 0, np.repeat(g_resp_vals, g_resp_counts), "#FF0000", "circle", 3, 0.9, half=0.38, cap=0.22)
swarm(13, 1, np.repeat(g_non_vals, g_non_counts), "#0000FF", "circle", 3, 0.95, half=0.4, cap=0.22)
prism_axes(13, (648, 745), (556, 706), [-0.71, 1.66], [7, 13], fg_groups, [7, 8, 9, 10, 11, 12, 13], "d", 11, 10)
bracket(13, 569, 577, 561, "****")
titles("GEO-GC cohort", 697, 536, "CBX3 mRNA expression", 614, 631, 12)

# ---------- panel letters ----------
for letter, lx, ly in [("A", 9, 12), ("B", 10, 251), ("C", 487, 251), ("D", 10, 520), ("E", 227, 520),
                       ("F", 417, 520), ("G", 592, 520)]:
    annos.append(dict(x=PX(lx), y=PY(ly), xref="paper", yref="paper", text=letter, showarrow=False,
                      font=dict(family=FONT, size=18, weight="bold", color="black"),
                      xanchor="center", yanchor="middle"))

layout["shapes"] = shapes
layout["annotations"] = annos
fig.update_layout(**layout)
fig.write_html("out.html", config={"displayModeBar": False},
               post_script="document.body.style.margin='0px';document.body.style.padding='0px';")
